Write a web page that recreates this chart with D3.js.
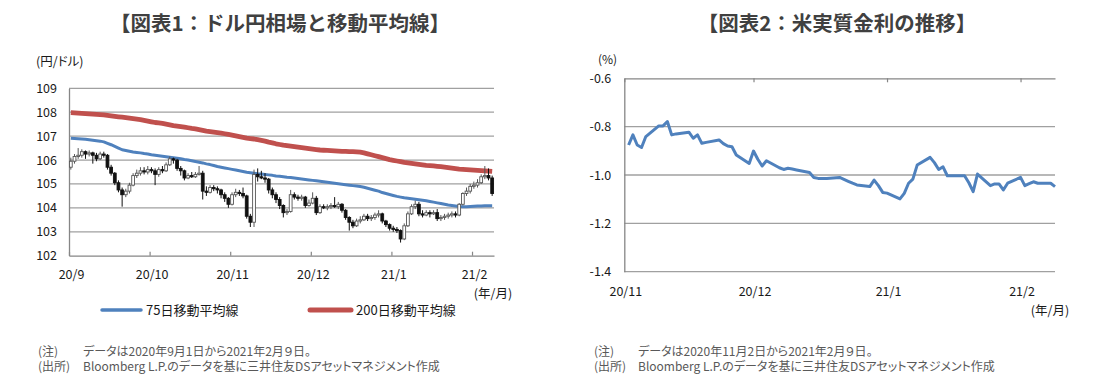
<!DOCTYPE html>
<html><head><meta charset="utf-8">
<script src="https://cdn.jsdelivr.net/npm/d3@7"></script>
<style>
body{margin:0;background:#fff;}
svg text{font-family:"Noto Sans CJK JP","Noto Sans",sans-serif;}
.palt{font-feature-settings:"palt";}
</style></head><body>
<svg id="c" width="1111" height="381"></svg>
<script>
// ---------- Chart 1 data (USD/JPY daily candles, 2020/9/1 - 2021/2/9) ----------
const fxOpen = [105.70,105.95,106.15,106.20,106.35,106.25,106.30,106.20,106.05,106.25,
106.20,105.70,105.45,105.05,104.75,104.55,104.70,104.95,105.35,105.45,
105.55,105.50,105.60,105.55,105.40,105.60,105.55,105.80,106.05,106.00,
105.65,105.55,105.25,105.35,105.30,105.40,105.45,104.70,104.65,104.85,
104.80,104.75,104.55,104.40,104.15,104.55,104.65,104.60,104.50,103.65,
103.40,105.40,105.30,105.25,105.20,104.75,104.55,104.35,104.10,103.80,
103.85,104.55,104.45,104.40,104.45,104.10,104.20,104.40,103.80,104.05,
104.00,104.05,104.10,104.05,104.15,103.90,103.60,103.40,103.25,103.45,
103.50,103.65,103.55,103.60,103.70,103.75,103.45,103.30,103.15,103.10,
103.05,102.70,103.25,103.75,104.05,104.15,103.75,103.70,103.80,103.75,
103.80,103.55,103.60,103.65,103.70,103.75,103.70,104.15,104.60,104.70,
104.90,104.95,105.05,105.30,105.35,105.25];
const fxHigh = [106.10,106.25,106.50,106.45,106.40,106.40,106.35,106.30,106.35,106.35,
106.25,105.80,105.50,105.15,104.85,104.80,105.05,105.45,105.60,105.70,
105.70,105.75,105.70,105.65,105.70,105.75,105.90,106.15,106.10,106.05,
105.75,105.60,105.45,105.50,105.50,105.75,105.55,104.90,104.95,104.95,
104.90,104.80,104.65,104.45,104.65,104.80,104.75,104.85,104.55,103.75,
105.60,105.65,105.55,105.45,105.25,104.85,104.65,104.45,104.15,103.95,
104.75,104.65,104.55,104.55,104.50,104.35,104.65,104.50,104.15,104.15,
104.15,104.20,104.45,104.25,104.20,103.95,103.65,103.50,103.55,103.65,
103.75,103.75,103.70,103.80,103.90,103.80,103.50,103.35,103.25,103.20,
103.10,103.35,103.85,104.15,104.30,104.25,103.90,103.90,103.90,103.90,
103.95,103.70,103.75,103.80,103.85,103.85,104.20,104.65,104.85,105.00,
105.10,105.20,105.40,105.75,105.65,105.35];
const fxLow = [105.60,105.85,106.05,106.10,106.05,106.15,105.85,105.95,106.00,106.10,
105.60,105.35,104.95,104.65,104.05,104.45,104.60,104.90,105.25,105.35,
105.40,105.40,105.45,104.95,105.30,105.45,105.50,105.75,105.85,105.55,
105.35,105.15,105.20,105.25,105.25,105.35,104.35,104.50,104.60,104.70,
104.60,104.40,104.25,104.00,104.10,104.45,104.50,104.40,103.55,103.20,
103.20,105.10,105.20,105.05,104.60,104.40,104.20,103.95,103.60,103.70,
103.80,104.35,104.30,104.30,104.00,104.05,104.15,103.70,103.75,103.95,
103.90,103.95,104.00,103.95,103.80,103.50,103.05,103.15,103.20,103.35,
103.45,103.45,103.45,103.50,103.60,103.35,103.20,103.05,103.00,102.95,
102.55,102.65,103.20,103.70,103.95,103.65,103.60,103.65,103.60,103.70,
103.45,103.45,103.50,103.55,103.60,103.60,103.65,104.10,104.50,104.60,
104.80,104.85,105.00,105.20,105.15,104.50];
const fxClose = [105.95,106.15,106.20,106.35,106.25,106.30,106.20,106.05,106.25,106.20,
105.70,105.45,105.05,104.75,104.55,104.70,104.95,105.35,105.45,105.55,
105.50,105.60,105.55,105.40,105.60,105.55,105.80,106.05,106.00,105.65,
105.55,105.25,105.35,105.30,105.40,105.45,104.70,104.65,104.85,104.80,
104.75,104.55,104.40,104.15,104.55,104.65,104.60,104.50,103.65,103.40,
105.40,105.30,105.25,105.20,104.75,104.55,104.35,104.10,103.80,103.85,
104.55,104.45,104.40,104.45,104.10,104.20,104.40,103.80,104.05,104.00,
104.05,104.10,104.05,104.15,103.90,103.60,103.40,103.25,103.45,103.50,
103.65,103.55,103.60,103.70,103.75,103.45,103.30,103.15,103.10,103.05,
102.70,103.25,103.75,104.05,104.15,103.75,103.70,103.80,103.75,103.80,
103.55,103.60,103.65,103.70,103.75,103.70,104.15,104.60,104.70,104.90,
104.95,105.05,105.30,105.35,105.25,104.60];
const ma75 = [106.91,106.90,106.89,106.88,106.87,106.85,106.83,106.81,106.79,106.76,
106.70,106.64,106.57,106.50,106.43,106.40,106.37,106.34,106.32,106.30,
106.27,106.25,106.22,106.20,106.18,106.16,106.14,106.12,106.10,106.08,
106.05,106.02,106.00,105.97,105.94,105.91,105.88,105.84,105.81,105.77,
105.73,105.70,105.67,105.64,105.61,105.58,105.55,105.52,105.49,105.47,
105.45,105.43,105.42,105.40,105.38,105.36,105.33,105.32,105.30,105.28,
105.27,105.25,105.23,105.21,105.19,105.17,105.15,105.13,105.11,105.09,
105.07,105.05,105.03,105.01,104.99,104.97,104.95,104.93,104.91,104.89,
104.86,104.82,104.78,104.74,104.70,104.64,104.60,104.56,104.52,104.48,
104.45,104.42,104.40,104.38,104.36,104.34,104.32,104.30,104.27,104.24,
104.21,104.18,104.15,104.12,104.10,104.08,104.06,104.05,104.05,104.06,
104.07,104.08,104.08,104.09,104.09,104.09];
const ma200 = [107.98,107.97,107.96,107.95,107.94,107.93,107.92,107.91,107.90,107.89,
107.87,107.85,107.83,107.81,107.79,107.77,107.75,107.73,107.71,107.69,
107.66,107.63,107.60,107.57,107.55,107.53,107.50,107.47,107.44,107.42,
107.40,107.38,107.35,107.32,107.30,107.27,107.24,107.21,107.19,107.17,
107.15,107.13,107.10,107.07,107.04,107.01,106.98,106.95,106.92,106.90,
106.88,106.85,106.82,106.79,106.75,106.72,106.68,106.65,106.62,106.60,
106.58,106.56,106.54,106.52,106.50,106.48,106.46,106.44,106.42,106.41,
106.40,106.39,106.38,106.37,106.36,106.36,106.35,106.35,106.34,106.33,
106.30,106.26,106.22,106.18,106.14,106.10,106.06,106.02,105.99,105.96,
105.93,105.90,105.88,105.86,105.84,105.82,105.80,105.78,105.77,105.76,
105.74,105.72,105.70,105.68,105.66,105.64,105.62,105.61,105.60,105.59,
105.58,105.57,105.56,105.55,105.54,105.53];
const fxTickIndex = [0,22,44,66,88,110];
const fxTickLabels = ["20/9","20/10","20/11","20/12","21/1","21/2"];
const fxYTicks = [102,103,104,105,106,107,108,109];

// ---------- Chart 2 data (US real yield, %) ----------
const ryDates = ["2020-11-02","2020-11-03","2020-11-04","2020-11-05","2020-11-06","2020-11-09","2020-11-10","2020-11-11","2020-11-12","2020-11-13",
"2020-11-16","2020-11-17","2020-11-18","2020-11-19","2020-11-20","2020-11-23","2020-11-24","2020-11-25","2020-11-26","2020-11-27","2020-11-30",
"2020-12-01","2020-12-02","2020-12-03","2020-12-04","2020-12-07","2020-12-08","2020-12-09","2020-12-10","2020-12-11","2020-12-14","2020-12-15",
"2020-12-16","2020-12-17","2020-12-18","2020-12-21","2020-12-22","2020-12-23","2020-12-24","2020-12-25","2020-12-28","2020-12-29","2020-12-30","2020-12-31",
"2021-01-01","2021-01-04","2021-01-05","2021-01-06","2021-01-07","2021-01-08","2021-01-11","2021-01-12","2021-01-13","2021-01-14","2021-01-15",
"2021-01-18","2021-01-19","2021-01-20","2021-01-21","2021-01-22","2021-01-25","2021-01-26","2021-01-27","2021-01-28","2021-01-29",
"2021-02-01","2021-02-02","2021-02-03","2021-02-04","2021-02-05","2021-02-08","2021-02-09"];
const ryValues = [-0.876,-0.834,-0.876,-0.886,-0.841,-0.797,-0.797,-0.779,-0.834,-0.830,
-0.823,-0.848,-0.834,-0.869,-0.865,-0.855,-0.870,-0.880,-0.883,-0.917,-0.952,
-0.901,-0.935,-0.963,-0.941,-0.970,-0.977,-0.972,-0.975,-0.979,-0.990,-1.010,
-1.014,-1.014,-1.014,-1.010,-1.018,-1.026,-1.034,-1.041,-1.048,-1.021,-1.044,-1.072,
-1.075,-1.099,-1.076,-1.034,-1.017,-0.959,-0.927,-0.949,-0.977,-0.966,-1.003,
-1.003,-1.003,-1.032,-1.069,-0.996,-1.044,-1.037,-1.037,-1.062,-1.034,
-1.010,-1.044,-1.036,-1.028,-1.034,-1.034,-1.048];
const ryDomain = ["2020-11-01","2021-02-09"];
const ryTickDates = ["2020-11-01","2020-12-01","2021-01-01","2021-02-01"];
const ryTickLabels = ["20/11","20/12","21/1","21/2"];
const ryYTicks = [-0.6,-0.8,-1.0,-1.2,-1.4];
const ryYLabels = ["-0.6","-0.8","-1.0","-1.2","-1.4"];

const svg = d3.select("#c");
const GRID = "#a0a0a0", AXIS = "#868686", TXT = "#1a1a1a", NOTE = "#595959";
const BLUE = "#4f81bd", RED = "#c0504d";

function styleAxisText(g, size){
  g.selectAll("text").attr("font-family",'"Noto Sans CJK JP","Noto Sans",sans-serif')
    .attr("font-size",size).attr("fill",TXT);
}

// ================= Chart 1 =================
const L = {x0:69, x1:494, y0:88.3, y1:255.7};
const xL = d3.scaleLinear().domain([0, fxClose.length]).range([L.x0, L.x1]);
const yL = d3.scaleLinear().domain([102,109]).range([L.y1, L.y0]);
const g1 = svg.append("g");

g1.selectAll(".grid").data(fxYTicks.filter(v=>v>102)).join("line")
  .attr("x1",L.x0).attr("x2",L.x1).attr("y1",d=>yL(d)).attr("y2",d=>yL(d))
  .attr("stroke",GRID).attr("stroke-width",1.3);

const xAx1 = g1.append("g").attr("transform",`translate(0,${yL(102)})`)
  .call(d3.axisBottom(xL).tickValues(fxTickIndex).tickFormat((d,i)=>fxTickLabels[i])
    .tickSizeInner(-4).tickSizeOuter(0).tickPadding(14));
xAx1.select(".domain").attr("stroke",AXIS).attr("stroke-width",1.3);
xAx1.selectAll(".tick line").attr("stroke",AXIS).attr("stroke-width",1.2);
xAx1.selectAll(".tick text").attr("dx",2);
styleAxisText(xAx1, 12.5);

const yAx1 = g1.append("g").attr("transform",`translate(${L.x0},0)`)
  .call(d3.axisLeft(yL).tickValues(fxYTicks).tickFormat(d3.format("d")).tickSize(0).tickPadding(12));
yAx1.select(".domain").attr("stroke",AXIS).attr("stroke-width",1.3);
styleAxisText(yAx1, 12.5);

// moving averages
const lineL = d3.line().x((d,i)=>xL(i+0.5)).y(d=>yL(d));
g1.append("path").datum(ma200).attr("d",lineL).attr("fill","none")
  .attr("stroke",RED).attr("stroke-width",4.8).attr("stroke-linejoin","round");
g1.append("path").datum(ma75).attr("d",lineL).attr("fill","none")
  .attr("stroke",BLUE).attr("stroke-width",3).attr("stroke-linejoin","round");

// candles
const cw = 2.8;
const candles = g1.append("g").selectAll("g").data(fxClose).join("g");
candles.append("line")
  .attr("x1",(d,i)=>xL(i+0.5)).attr("x2",(d,i)=>xL(i+0.5))
  .attr("y1",(d,i)=>yL(fxHigh[i])).attr("y2",(d,i)=>yL(fxLow[i]))
  .attr("stroke",(d,i)=> d>=fxOpen[i] ? "#555" : "#111").attr("stroke-width",1);
candles.append("rect")
  .attr("x",(d,i)=>xL(i+0.5)-cw/2).attr("width",cw)
  .attr("y",(d,i)=>yL(Math.max(d,fxOpen[i])))
  .attr("height",(d,i)=>Math.max(1, Math.abs(yL(d)-yL(fxOpen[i]))))
  .attr("fill",(d,i)=> d>=fxOpen[i] ? "#fff" : "#111")
  .attr("stroke",(d,i)=> d>=fxOpen[i] ? "#555" : "#111").attr("stroke-width",0.9);

// titles & labels chart 1
svg.append("text").attr("x",280).attr("y",31).attr("text-anchor","middle")
  .attr("font-size",20.5).attr("font-weight","bold").attr("fill","#404040")
  .text("【図表1：ドル円相場と移動平均線】");
svg.append("text").attr("x",36).attr("y",66).attr("font-size",12.5).attr("fill",TXT)
  .attr("class","palt").text("(円/ドル)");
svg.append("text").attr("x",493).attr("y",298).attr("text-anchor","middle")
  .attr("font-size",12.5).attr("fill",TXT).text("(年/月)");

// legend
svg.append("line").attr("x1",102).attr("x2",141).attr("y1",310).attr("y2",310)
  .attr("stroke",BLUE).attr("stroke-width",3.5).attr("stroke-linecap","round");
svg.append("text").attr("x",146).attr("y",314.5).attr("font-size",13).attr("fill",TXT).text("75日移動平均線");
svg.append("line").attr("x1",310).attr("x2",351).attr("y1",310).attr("y2",310)
  .attr("stroke",RED).attr("stroke-width",5).attr("stroke-linecap","round");
svg.append("text").attr("x",356).attr("y",314.5).attr("font-size",13).attr("fill",TXT).text("200日移動平均線");

// notes
function notes(x1, x2, line1){
  svg.append("text").attr("x",x1).attr("y",356).attr("font-size",12).attr("fill",NOTE).text("(注)");
  svg.append("text").attr("x",x2).attr("y",356).attr("font-size",12).attr("fill",NOTE).attr("class","palt").text(line1);
  svg.append("text").attr("x",x1).attr("y",371).attr("font-size",12).attr("fill",NOTE).attr("class","palt").text("(出所)");
  svg.append("text").attr("x",x2).attr("y",371).attr("font-size",12).attr("fill",NOTE).attr("class","palt")
    .text("Bloomberg L.P.のデータを基に三井住友DSアセットマネジメント作成");
}
notes(38, 83, "データは2020年9月1日から2021年2月９日。");

// ================= Chart 2 =================
const parse = d3.timeParse("%Y-%m-%d");
const R = {x0:624.3, x1:1055, y0:78.3, y1:271.7};
const xR = d3.scaleTime().domain(ryDomain.map(parse)).range([R.x0, R.x1]);
const yR = d3.scaleLinear().domain([-1.4,-0.6]).range([R.y1, R.y0]);
const g2 = svg.append("g");

g2.selectAll(".grid").data(ryYTicks.filter(v=>v<-0.6)).join("line")
  .attr("x1",R.x0).attr("x2",R.x1).attr("y1",d=>yR(d)).attr("y2",d=>yR(d))
  .attr("stroke",GRID).attr("stroke-width",1.3);

const topAx = g2.append("g").attr("transform",`translate(0,${yR(-0.6)})`)
  .call(d3.axisTop(xR).tickValues(ryTickDates.map(parse)).tickFormat("")
    .tickSizeInner(-4).tickSizeOuter(0));
topAx.select(".domain").attr("stroke",AXIS).attr("stroke-width",1.3);
topAx.selectAll(".tick line").attr("stroke",AXIS).attr("stroke-width",1.2);

const botAx = g2.append("g").attr("transform",`translate(0,${yR(-1.4)})`)
  .call(d3.axisBottom(xR).tickValues(ryTickDates.map(parse)).tickFormat((d,i)=>ryTickLabels[i])
    .tickSize(0).tickPadding(15));
botAx.select(".domain").remove();
botAx.selectAll(".tick text").attr("dx",1);
styleAxisText(botAx, 12.5);

const yAx2 = g2.append("g").attr("transform",`translate(${R.x0},0)`)
  .call(d3.axisLeft(yR).tickValues(ryYTicks).tickFormat((d,i)=>ryYLabels[i]).tickSize(0).tickPadding(13));
yAx2.select(".domain").attr("stroke",AXIS).attr("stroke-width",1.3);
styleAxisText(yAx2, 12.5);

const lineR = d3.line().x((d,i)=>xR(parse(ryDates[i]))).y(d=>yR(d));
g2.append("path").datum(ryValues).attr("d",lineR).attr("fill","none")
  .attr("stroke",BLUE).attr("stroke-width",3).attr("stroke-linejoin","round");

svg.append("text").attr("x",837).attr("y",31).attr("text-anchor","middle")
  .attr("font-size",20.5).attr("font-weight","bold").attr("fill","#404040")
  .text("【図表2：米実質金利の推移】");
svg.append("text").attr("x",598).attr("y",64).attr("font-size",12).attr("fill",TXT).text("(%)");
svg.append("text").attr("x",1050).attr("y",314.5).attr("text-anchor","middle")
  .attr("font-size",12.5).attr("fill",TXT).text("(年/月)");
notes(594, 638, "データは2020年11月2日から2021年2月９日。");
</script>
</body></html>
